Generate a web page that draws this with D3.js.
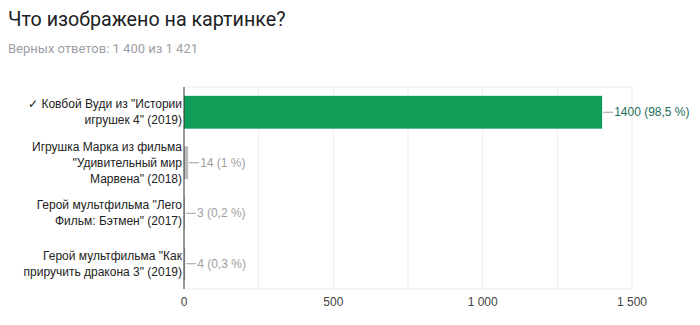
<!DOCTYPE html>
<html>
<head>
<meta charset="utf-8">
<script src="https://cdn.jsdelivr.net/npm/d3@7"></script>
<style>
  body { margin: 0; background: #fff; }
  svg { display: block; }
</style>
</head>
<body>
<div id="chart"></div>
<script>
const title = 'Что изображено на картинке?';
const subtitle = 'Верных ответов: 1 400 из 1 421';
const categories = [
    ['✓ Ковбой Вуди из "Истории', 'игрушек 4" (2019)'],
    ['Игрушка Марка из фильма', '"Удивительный мир', 'Марвена" (2018)'],
    ['Герой мультфильма "Лего', 'Фильм: Бэтмен" (2017)'],
    ['Герой мультфильма "Как', 'приручить дракона 3" (2019)']
];
const values = [1400, 14, 3, 4];
const valueLabels = ['1400 (98,5 %)', '14 (1 %)', '3 (0,2 %)', '4 (0,3 %)'];
const correct = [true, false, false, false];
const xTicks = [0, 500, 1000, 1500];
const xTickLabels = ['0', '500', '1 000', '1 500'];
const gridValues = [250, 500, 750, 1000, 1250, 1500];

const svgWidth = 700, svgHeight = 325;
const plot = {left: 184, right: 632, top: 87, bottom: 289};

const svg = d3.select('#chart').append('svg')
    .attr('width', svgWidth)
    .attr('height', svgHeight);

svg.append('text')
    .attr('x', 8).attr('y', 26)
    .attr('font-family', 'Roboto, sans-serif')
    .attr('font-size', 19.7)
    .attr('fill', '#202124')
    .text(title);

svg.append('text')
    .attr('x', 8).attr('y', 53)
    .attr('font-family', 'Roboto, sans-serif')
    .attr('font-size', 13)
    .attr('fill', '#9aa0a6')
    .text(subtitle);

const x = d3.scaleLinear().domain([0, 1500]).range([plot.left, plot.right]);
const y = d3.scaleBand().domain(d3.range(values.length)).range([plot.top, plot.bottom]);
const barH = y.bandwidth() * 0.65;

// grid
svg.append('g').selectAll('line').data(gridValues).enter().append('line')
    .attr('x1', d => x(d)).attr('x2', d => x(d))
    .attr('y1', plot.top).attr('y2', plot.bottom)
    .attr('stroke', '#ebebeb');
svg.append('g').selectAll('line').data([plot.top, plot.bottom]).enter().append('line')
    .attr('x1', plot.left).attr('x2', plot.right)
    .attr('y1', d => d).attr('y2', d => d)
    .attr('stroke', '#ebebeb');

// bars
svg.append('g').selectAll('rect').data(values).enter().append('rect')
    .attr('x', x(0))
    .attr('y', (d, i) => y(i) + (y.bandwidth() - barH) / 2)
    .attr('width', d => x(d) - x(0))
    .attr('height', barH)
    .attr('fill', (d, i) => correct[i] ? '#0f9d58' : '#bdbdbd');

// leader lines + value labels
const lab = svg.append('g');
values.forEach((v, i) => {
    const cy = y(i) + y.bandwidth() / 2;
    const x0 = x(v) + 1;
    lab.append('line')
        .attr('x1', x0).attr('x2', x0 + 10)
        .attr('y1', cy).attr('y2', cy)
        .attr('stroke', '#9e9e9e');
    lab.append('text')
        .attr('x', x0 + 11).attr('y', cy + 4)
        .attr('font-family', 'Arial, "Liberation Sans", sans-serif')
        .attr('font-size', 12)
        .attr('fill', correct[i] ? '#1b6e57' : '#9e9e9e')
        .text(valueLabels[i]);
});

// y axis line
svg.append('line')
    .attr('x1', plot.left).attr('x2', plot.left)
    .attr('y1', plot.top).attr('y2', plot.bottom)
    .attr('stroke', '#333');

// category labels
const cat = svg.append('g')
    .attr('font-family', 'Arial, "Liberation Sans", sans-serif')
    .attr('font-size', 12)
    .attr('fill', '#222')
    .attr('text-anchor', 'end');
categories.forEach((lines, i) => {
    const cy = y(i) + y.bandwidth() / 2;
    const lh = 16;
    const start = cy - (lines.length - 1) * lh / 2;
    lines.forEach((t, j) => {
        cat.append('text')
            .attr('x', plot.left - 2)
            .attr('y', start + j * lh + 4)
            .text(t);
    });
});

// x tick labels
svg.append('g').selectAll('text').data(xTicks).enter().append('text')
    .attr('x', d => x(d)).attr('y', 306)
    .attr('text-anchor', 'middle')
    .attr('font-family', 'Arial, "Liberation Sans", sans-serif')
    .attr('font-size', 12)
    .attr('fill', '#444')
    .text((d, i) => xTickLabels[i]);
</script>
</body>
</html>
